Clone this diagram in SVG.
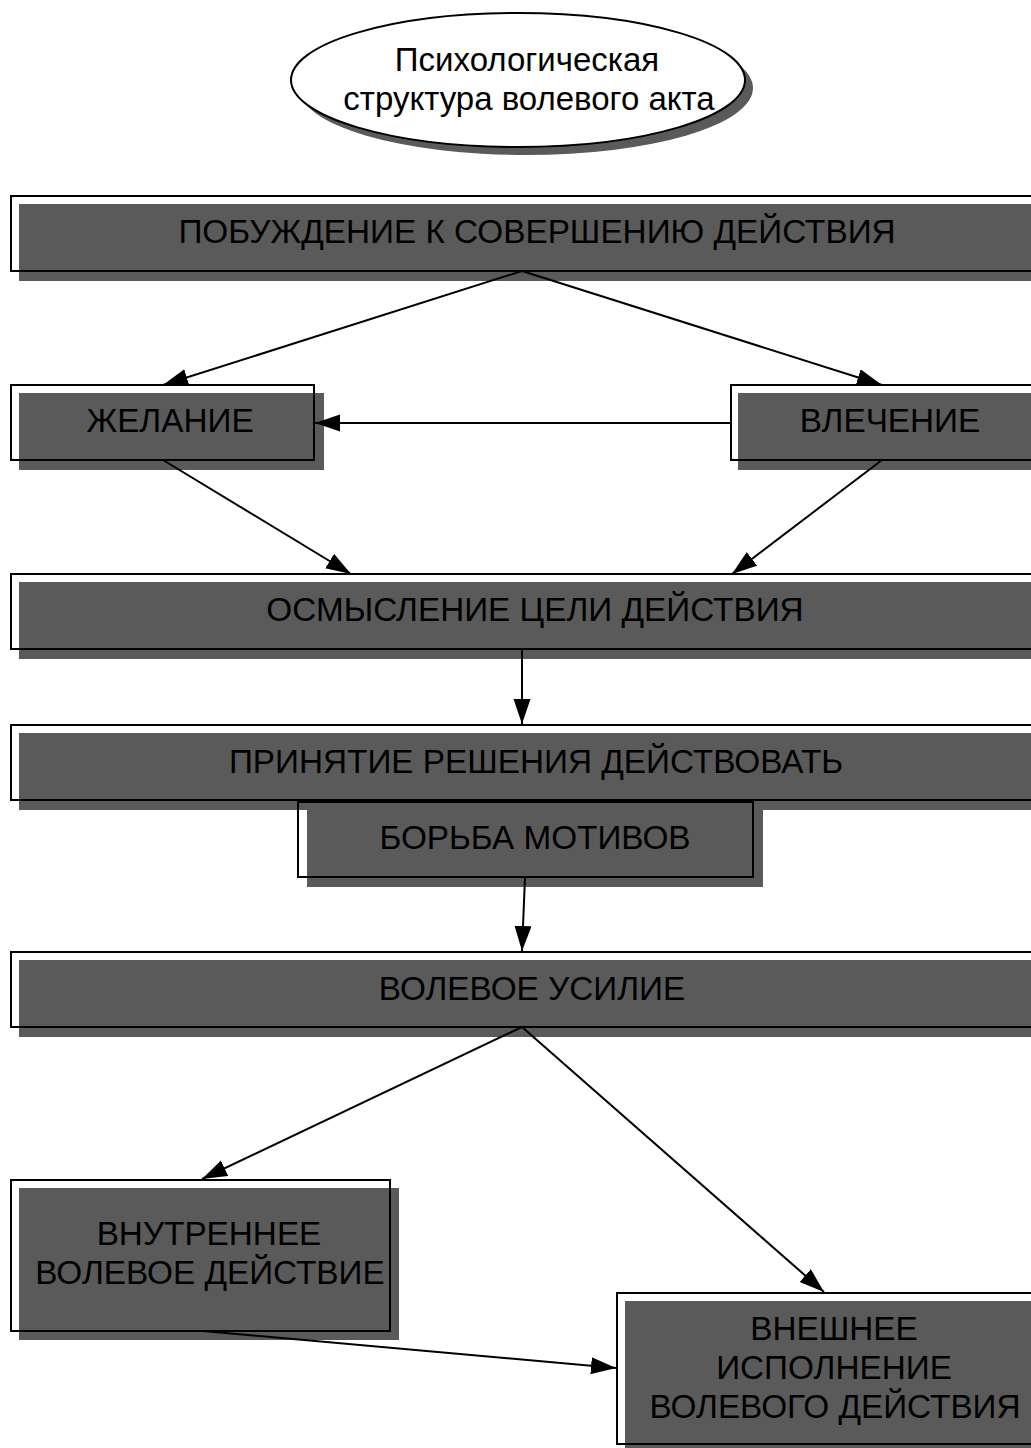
<svg xmlns="http://www.w3.org/2000/svg" width="1031" height="1448" viewBox="0 0 1031 1448">
<style>
.sh{fill:#5a5a5a;stroke:none}
.bx{fill:none;stroke:#000;stroke-width:2}
.t{font-family:"Liberation Sans",Arial,sans-serif;font-size:33.3px;fill:#000;text-anchor:middle}
.te{font-family:"Liberation Sans",Arial,sans-serif;font-size:33px;fill:#000;text-anchor:middle}
.c{stroke:#000;stroke-width:2;fill:none;marker-end:url(#ah)}
</style>
<defs>
<marker id="ah" markerUnits="userSpaceOnUse" markerWidth="26" markerHeight="18" refX="25" refY="8.5" orient="auto">
<path d="M0,0 L25,8.5 L0,17 z" fill="#000"/>
</marker>
</defs>
<rect width="1031" height="1448" fill="#fff"/>
<g id="title">
<ellipse cx="526" cy="88" rx="227" ry="67" fill="#5a5a5a"/>
<ellipse cx="518" cy="80" rx="227" ry="67" fill="#fff" stroke="#000" stroke-width="2"/>
<text class="te" x="527" y="71">Психологическая</text>
<text class="te" x="529" y="110">структура волевого акта</text>
</g>
<g id="n1">
<rect class="sh" x="19" y="204" width="1030" height="77"/>
<rect class="bx" x="11" y="196" width="1030" height="75"/>
<text class="t" x="537" y="243">ПОБУЖДЕНИЕ К СОВЕРШЕНИЮ ДЕЙСТВИЯ</text>
</g>
<g id="n2">
<rect class="sh" x="19" y="393" width="305" height="77"/>
<rect class="bx" x="11" y="385" width="303" height="75"/>
<text class="t" x="170" y="432">ЖЕЛАНИЕ</text>
</g>
<g id="n3">
<rect class="sh" x="738" y="393" width="310" height="77"/>
<rect class="bx" x="731" y="385" width="310" height="75"/>
<text class="t" x="890" y="432">ВЛЕЧЕНИЕ</text>
</g>
<g id="n4">
<rect class="sh" x="19" y="582" width="1030" height="77"/>
<rect class="bx" x="11" y="574" width="1030" height="75"/>
<text class="t" x="535" y="621">ОСМЫСЛЕНИЕ ЦЕЛИ ДЕЙСТВИЯ</text>
</g>
<g id="n5">
<rect class="sh" x="19" y="733" width="1030" height="77"/>
<rect class="bx" x="11" y="725" width="1030" height="75"/>
<text class="t" x="536" y="773">ПРИНЯТИЕ РЕШЕНИЯ ДЕЙСТВОВАТЬ</text>
</g>
<g id="n6">
<rect class="sh" x="307" y="810" width="456" height="77"/>
<rect class="bx" x="298" y="802" width="455" height="75"/>
<text class="t" x="535" y="849">БОРЬБА МОТИВОВ</text>
</g>
<g id="n7">
<rect class="sh" x="19" y="960" width="1030" height="77"/>
<rect class="bx" x="11" y="952" width="1030" height="75"/>
<text class="t" x="532" y="1000">ВОЛЕВОЕ УСИЛИЕ</text>
</g>
<g id="n8">
<rect class="sh" x="19" y="1188" width="380" height="152"/>
<rect class="bx" x="11" y="1180" width="379" height="151"/>
<text class="t" x="209" y="1245">ВНУТРЕННЕЕ</text>
<text class="t" x="210" y="1284">ВОЛЕВОЕ ДЕЙСТВИЕ</text>
</g>
<g id="n9">
<rect class="sh" x="625" y="1301" width="420" height="160"/>
<rect class="bx" x="617" y="1293" width="430" height="151"/>
<text class="t" x="834" y="1340">ВНЕШНЕЕ</text>
<text class="t" x="834" y="1379">ИСПОЛНЕНИЕ</text>
<text class="t" x="835" y="1418">ВОЛЕВОГО ДЕЙСТВИЯ</text>
</g>
<g id="connectors">
<line class="c" x1="522" y1="271" x2="163" y2="385"/>
<line class="c" x1="522" y1="271" x2="882" y2="385"/>
<line class="c" x1="731" y1="423" x2="315" y2="423"/>
<line class="c" x1="163" y1="460" x2="351" y2="574"/>
<line class="c" x1="882" y1="460" x2="732" y2="574"/>
<line class="c" x1="522" y1="649" x2="522" y2="724"/>
<line class="c" x1="525" y1="877" x2="522" y2="951"/>
<line class="c" x1="522" y1="1027" x2="202" y2="1179"/>
<line class="c" x1="522" y1="1027" x2="824" y2="1292"/>
<line class="c" x1="203" y1="1331" x2="616" y2="1368"/>
</g>
</svg>
